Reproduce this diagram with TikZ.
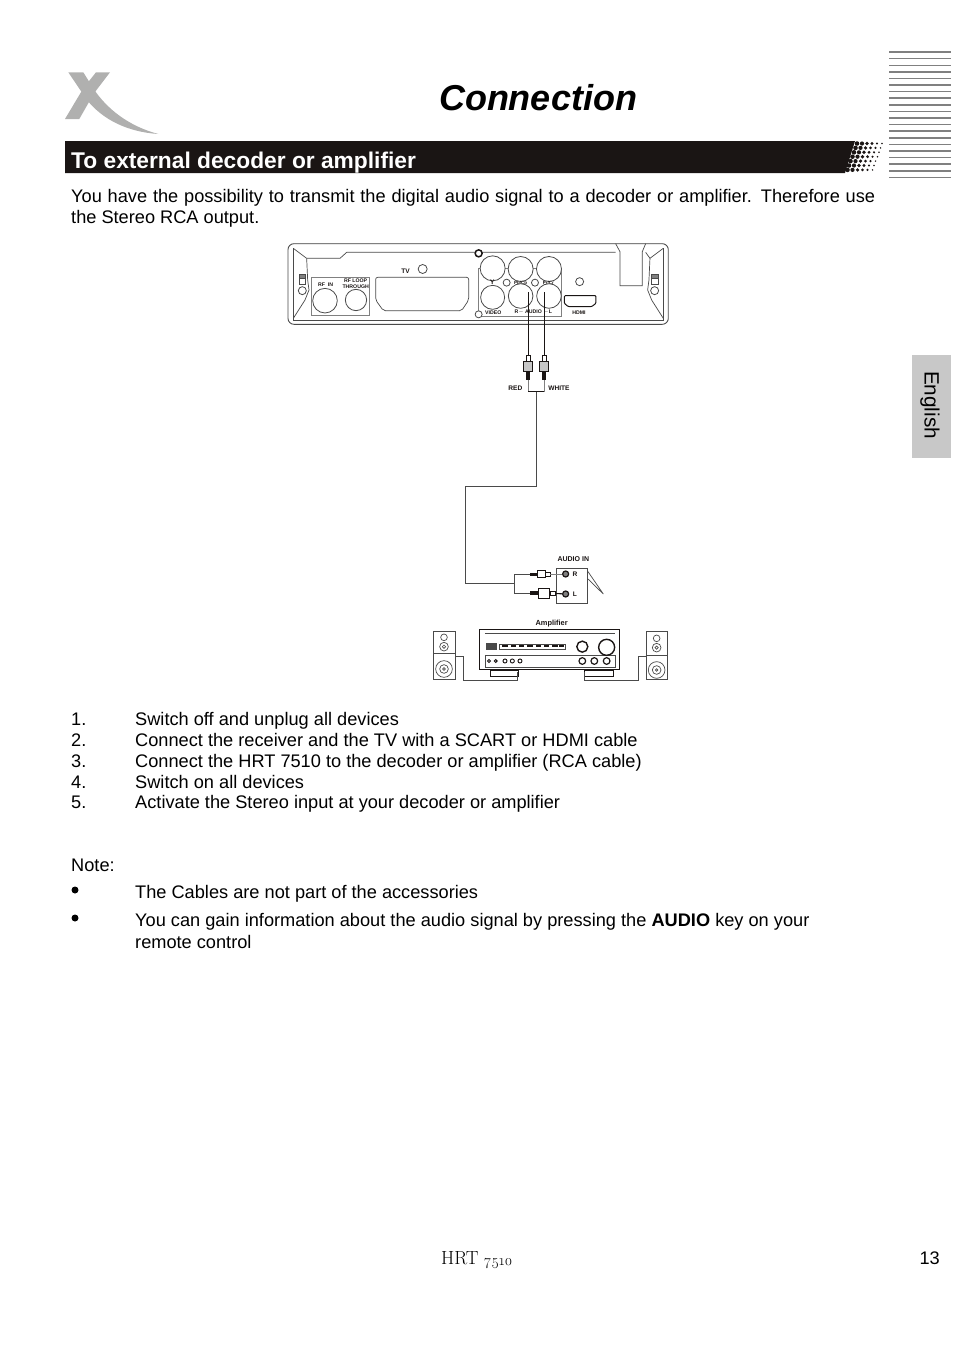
\documentclass[tikz,border=0pt]{standalone}
\usepackage{fontspec}
\setmainfont{Liberation Sans}
\newfontfamily\footfont[Numbers=OldStyle]{Latin Modern Roman}
\usetikzlibrary{positioning,calc}
\definecolor{ink}     {HTML}{1A1514}
\definecolor{logogrey}{HTML}{B0B0AF}
\definecolor{tabgrey} {HTML}{C8C8C8}
\definecolor{stripe}  {HTML}{808080}
\definecolor{wire}    {HTML}{4A4A4A}
\tikzset{
  >=stealth,
  % --- text
  bodytxt/.style = {anchor=base west, inner sep=0pt, text=black, font=\fontsize{18.2}{21}\selectfont},
  para/.style    = {bodytxt, text width=804pt, align=justify},
  bullet/.style  = {circle, fill=black, inner sep=0pt, minimum size=7pt},
  tiny/.style    = {inner sep=0pt, font=\fontsize{6.6}{7}\selectfont\bfseries, align=center, text=ink},
  tinier/.style  = {tiny, font=\fontsize{5.2}{6}\selectfont\bfseries},
  % --- device parts
  dev/.style     = {draw=wire, line width=0.7pt},
  devk/.style    = {draw=ink, line width=1pt},
  jack/.style    = {circle, draw=wire, fill=white, line width=0.8pt, inner sep=0pt},
  socket/.style  = {circle, draw=ink, fill=stripe, line width=1.2pt, inner sep=0pt, minimum size=6pt},
  cable/.style   = {draw=wire, line width=0.9pt},
  cablek/.style  = {draw=ink, line width=1.1pt},
  % --- plugs
  pbody/.style   = {rectangle, draw=ink, fill=stripe!45, line width=0.8pt, inner sep=0pt},
  ptail/.style   = {rectangle, fill=ink, inner sep=0pt},
  ptip/.style    = {rectangle, draw=ink, fill=white, line width=0.6pt, inner sep=0pt},
}
\begin{document}
\begin{tikzpicture}[x=1pt,y=-1pt]
  \useasboundingbox (0,0) rectangle (954,1352);

  % --- header
  \fill[logogrey] (68.3,72.3) -- (83.3,72.3) -- (93.3,88.3) .. controls (106,108) and (128,126) .. (158.3,134)
       .. controls (128,132) and (103,120) .. (87,100) -- cycle;
  \fill[logogrey] (96,72.3) -- (110,72.3) -- (94,93.3) -- (79.3,119) -- (65,119) -- (83.3,88.3) -- cycle;
  \node[inner sep=0pt, anchor=base, font=\fontsize{36}{40}\selectfont\bfseries\itshape] (title) at (538,110) {Connection};

  \fill[ink] (65,141) -- (855,141) -- (845,173) -- (65,173) -- cycle;
  \node[bodytxt, text=white, font=\fontsize{22.75}{24}\selectfont\bfseries] (head) at (71,168) {To external decoder or amplifier};
  \foreach \r/\x in {0/857,1/855.5,2/854,3/852.5,4/850.5,5/849,6/847.5}
    \foreach \c/\s in {0/4.6,1/4.2,2/3.7,3/3.1,4/2.4,5/1.7}
      \fill[ink] ({\x+\c*5},{143.5+\r*4.4}) circle ({\s/2});

  \foreach \y/\w in {51.7/2,58.3/1,65.3/1,71.7/2,78.3/1,84.7/2,91.3/1,97.7/2,105/2,111.3/1,117.7/2,124.3/1,130.7/2,137.7/2,144.3/1,150.7/2,157.3/1,164/2,170.7/2,177.3/1}
    \draw[stripe, line width=\w pt] (889,\y) -- (951,\y);

  \fill[tabgrey] (912,355) rectangle (951,458);
  \node[inner sep=0pt, rotate=-90, font=\fontsize{20.7}{22}\selectfont] (lang) at (930,405) {English};

  % --- intro
  \node[para] (intro) at (71,202) {You have the possibility to transmit the digital audio signal to a decoder or amplifier. Therefore use the Stereo RCA output.};

  % --- receiver
  \begin{scope}[shift={(280,235)},x=0.3333pt,y=-0.3333pt]
    \draw[dev, rounded corners=6pt, line width=0.9pt] (24,26) rectangle (1165,268);
    \draw[stripe, line width=1.6pt] (40,26) -- (1150,26);
    \draw[dev] (40,40) -- (80,70) -- (180,70) -- (200,52) -- (1007,52);
    \draw[dev] (1097,52) -- (1110,70) -- (1150,40);
    \draw[dev] (40,40) -- (40,255) -- (1150,255) -- (1150,40);
    \draw[dev] (80,70) -- (83,135) -- (87,165) -- (75,195) -- (40,250);
    \draw[dev] (1110,70) -- (1107,135) -- (1103,165) -- (1115,195) -- (1150,250);
    \draw[dev] (1007,26) -- (1020,50) -- (1020,152) -- (1087,152) -- (1087,50) -- (1097,26);
    \node[circle, draw=ink, line width=1.5pt, fill=white, inner sep=0pt, minimum size=7pt] (screwa) at (596,55) {};
    \node[jack, minimum size=8pt] (holel) at (67,167) {};
    \node[jack, minimum size=8pt] (holer) at (1124,167) {};
    \draw[dev, fill=stripe] (57,118) rectangle (77,130);
    \draw[dev] (57,130) rectangle (77,148);
    \draw[dev, fill=stripe] (1114,118) rectangle (1134,130);
    \draw[dev] (1114,130) rectangle (1134,148);
    % tv out
    \node[tiny] (tv) at (377,108) {TV};
    \node[jack, minimum size=9pt] (tvled) at (428,102) {};
    \draw[dev, rounded corners=2pt] (287,127) -- (566,127) -- (566,195) -- (545,227) -- (310,227) -- (287,195) -- cycle;
    % rf
    \draw[dev, draw=stripe] (93,127) rectangle (268,240);
    \node[tinier] (rfin) at (137,150) {RF\ \ IN};
    \node[tinier] (rfloop) at (227,147) {RF\ LOOP\\THROUGH};
    \node[jack, minimum size=24.6pt] (rfa) at (135,197) {};
    \node[jack, minimum size=21.3pt] (rfb) at (228,195) {};
    % av
    \draw[dev, draw=stripe] (594,100) rectangle (845,245);
    \node[jack, minimum size=7pt] (screwb) at (596,238) {};
    \node[jack, minimum size=25pt] (ya) at (638,100) {};
    \node[jack, minimum size=25pt] (pb) at (722,102) {};
    \node[jack, minimum size=25pt] (pr) at (807,102) {};
    \node[jack, minimum size=7pt] (leda) at (680,143) {};
    \node[jack, minimum size=7pt] (ledb) at (765,143) {};
    \node[tiny] (ylbl) at (637,143) {Y};
    \node[tiny, font=\fontsize{4.5}{5}\selectfont\bfseries] (pblbl) at (722,143) {Pb/Cb};
    \node[tiny, font=\fontsize{4.5}{5}\selectfont\bfseries] (prlbl) at (805,143) {Pr/Cr};
    \node[jack, minimum size=24pt] (video) at (638,187) {};
    \node[jack, minimum size=24.6pt] (audr) at (722,183) {};
    \node[jack, minimum size=24.6pt] (audl) at (807,183) {};
    \node[tinier] (vlbl) at (640,232) {VIDEO};
    \node[tinier] (albl) at (760,232) {R$-$ AUDIO $-$L};
    % hdmi
    \draw[devk, rounded corners=1pt] (853,182) -- (948,182) -- (948,205) -- (935,215) -- (865,215) -- (853,205) -- cycle;
    \node[tinier] (hlbl) at (897,232) {HDMI};
    \node[jack, minimum size=8pt] (hled) at (899,140) {};
    % rca lead
    \coordinate (portr) at (745,172);
    \coordinate (portl) at (793,172);
    \coordinate (tailr) at (745,470);
    \coordinate (taill) at (793,470);
    \coordinate (tee) at (770,470);
    \foreach \p/\x in {r/745,l/793} {
      \node[ptip, minimum width=4pt, minimum height=7pt] (tip\p) at (\x,370) {};
      \node[pbody, minimum width=9pt, minimum height=10pt] (plug\p) at (\x,395) {};
      \node[ptail, minimum width=4pt, minimum height=8pt] (back\p) at (\x,422) {};
      \draw[cablek] (port\p) -- (tip\p);
      \draw[stripe, line width=1pt] (back\p) -- (tail\p);
    }
    \draw[cablek] (tailr) -- (taill);
    \node[tiny] (red) at (706,460) {RED};
    \node[tiny] (white) at (837,460) {WHITE};
  \end{scope}

  % --- amplifier
  \begin{scope}[shift={(425,550)},x=0.3333pt,y=-0.3333pt]
    \coordinate (bendb) at (122,0);
    \coordinate (bendc) at (122,100);
    \coordinate (split) at (268,100);
    \coordinate (splitr) at (268,72);
    \coordinate (splitl) at (268,130);
    \draw[dev] (393,55) rectangle (487,160);
    \draw[dev] (487,62) -- (535,132) -- (487,85);
    \node[tiny, font=\fontsize{7}{7}\selectfont\bfseries] (audin) at (445,28) {AUDIO IN};
    \node[tiny] (rlbl) at (450,72) {R};
    \node[tiny] (llbl) at (450,133) {L};
    \node[socket] (inr) at (422,72) {};
    \node[socket] (inl) at (422,132) {};
    \node[ptail, minimum width=7pt, minimum height=3pt] (backr) at (326,72) {};
    \node[pbody, fill=white, minimum width=8pt, minimum height=7.5pt] (pinr) at (349,72) {};
    \node[ptip, minimum width=5pt, minimum height=4pt] (neckr) at (367,72) {};
    \node[ptail, minimum width=8pt, minimum height=4pt] (backl) at (328,130) {};
    \node[pbody, fill=white, minimum width=11pt, minimum height=10pt] (pinl) at (357,130) {};
    \node[ptip, minimum width=5pt, minimum height=4pt] (neckl) at (382,130) {};
    \draw[cable] (split) -- (splitr) -- (backr);
    \draw[cable] (split) -- (splitl) -- (backl);
    \draw[cable, draw=stripe] (neckr) -- (inr);
    \draw[cablek] (neckl) -- (inl);

    \node[tiny, font=\fontsize{7.4}{8}\selectfont\bfseries] (amplbl) at (380,222) {Amplifier};
    \draw[devk] (165,237) rectangle (585,360);
    \draw[dev] (180,250) -- (570,250) (180,315) -- (570,315) (180,315) -- (180,352) -- (570,352) -- (570,315);
    \draw[dev, fill=wire] (185,280) rectangle (213,298);
    \draw[dev] (222,282) rectangle (420,297);
    \foreach \x in {232,257,282,307,332,357,382,402}
      \fill[ink] (\x,286) rectangle +(16,6);
    \node[jack, draw=ink, line width=1.4pt, minimum size=11pt] (knoba) at (472,290) {};
    \node[jack, draw=ink, line width=1.4pt, minimum size=16pt] (knobb) at (545,292) {};
    \foreach \x/\s in {192/4,212/4,240/5.5,262/5.5,285/5.5}
      \draw[ink, line width=0.9pt] (\x,333) circle (\s*1.1);
    \foreach \x in {472,508,545}
      \draw[ink, line width=1.2pt] (\x,333) circle (10);
    \node[dev, draw=ink, minimum width=27.7pt, minimum height=6pt, inner sep=0pt, anchor=north west] (foota) at (195,360) {};
    \node[dev, draw=ink, minimum width=29pt, minimum height=6pt, inner sep=0pt, anchor=north west] (footb) at (478,360) {};
    % speakers
    \node[dev, draw=wire, minimum width=21.7pt, minimum height=48pt, inner sep=0pt, anchor=north west] (spkl) at (25,242) {};
    \node[dev, draw=wire, minimum width=21.7pt, minimum height=48pt, inner sep=0pt, anchor=north west] (spkr) at (662,242) {};
    \draw[dev] (25,310) -- (90,310) (662,316) -- (727,316);
    \foreach \x/\d in {57/0,695/3} {
      \draw[dev] (\x,262+\d) circle (10);
      \draw[dev] (\x,290+\d) circle (13);
      \draw[dev] (\x,290+\d) circle (5);
      \draw[dev] (\x,357+\d) circle (25);
      \draw[dev] (\x,357+\d) circle (13);
      \draw[dev] (\x,357+\d) circle (4);
    }
    \coordinate (spkla) at (90,318);
    \coordinate (spklb) at (115,318);
    \coordinate (spklc) at (115,390);
    \coordinate (ampla) at (278,390);
    \coordinate (amplb) at (278,366);
    \coordinate (spkra) at (662,318);
    \coordinate (spkrb) at (640,318);
    \coordinate (spkrc) at (640,390);
    \coordinate (ampra) at (478,390);
    \coordinate (amprb) at (478,366);
    \draw[cable] (spkla) -- (spklb) -- (spklc) -- (ampla) -- (amplb);
    \draw[cable] (spkra) -- (spkrb) -- (spkrc) -- (ampra) -- (amprb);
  \end{scope}

  % --- lead between the two
  \draw[cable] (tee) -- (tee |- 0,486) -- (bendb |- 0,486) -- (bendc) -- (split);

  % --- steps
  \foreach \n/\y/\t in {1/725/{Switch off and unplug all devices},
                        2/746/{Connect the receiver and the TV with a SCART or HDMI cable},
                        3/767/{Connect the HRT 7510 to the decoder or amplifier (RCA cable)},
                        4/788/{Switch on all devices},
                        5/808/{Activate the Stereo input at your decoder or amplifier}} {
    \node[bodytxt] (num\n) at (71,\y) {\n.};
    \node[bodytxt] (stp\n) at (135,\y) {\t};
  }

  % --- note
  \node[bodytxt] (note) at (71,871) {Note:};
  \node[bullet] (bula) at (75,890) {};
  \node[bodytxt] (nota) at (135,898) {The Cables are not part of the accessories};
  \node[bullet] (bulb) at (75,918) {};
  \node[bodytxt] (notb) at (135,926) {You can gain information about the audio signal by pressing the \textbf{AUDIO} key on your};
  \node[bodytxt] (notc) at (135,948) {remote control};

  % --- footer
  \node[inner sep=0pt, anchor=base west, font=\footfont\fontsize{19}{20}\selectfont] (model) at (441,1264) {HRT};
  \node[inner sep=0pt, anchor=base west, font=\footfont\fontsize{15}{16}\selectfont] (modelno) at (484,1265) {7510};
  \node[inner sep=0pt, anchor=base east, font=\fontsize{18.2}{21}\selectfont] (page) at (940,1264) {13};
\end{tikzpicture}
\end{document}
